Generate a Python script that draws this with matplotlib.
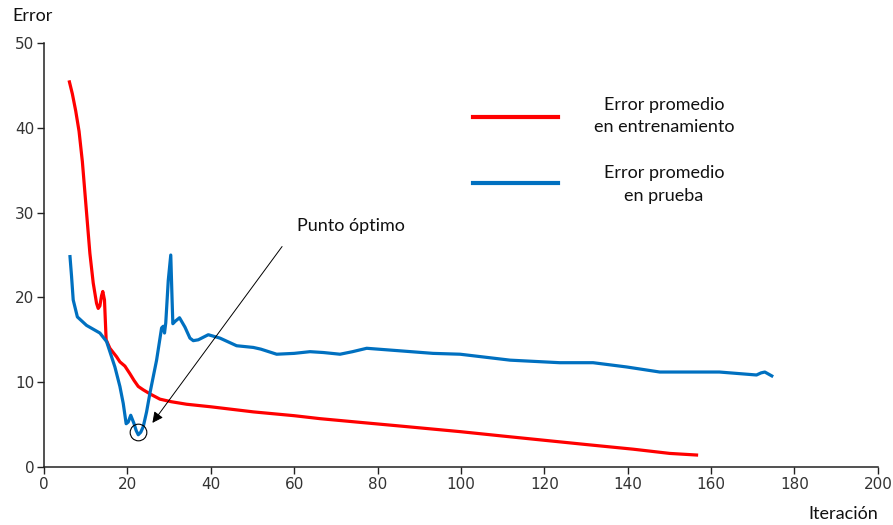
import numpy as np
import matplotlib
matplotlib.use('Agg')
import matplotlib.pyplot as plt
from matplotlib.lines import Line2D

# ----------------------------------------------------------------
#  Datos
# ----------------------------------------------------------------
red_x = [6, 6.8, 7.6, 8.4, 9.2, 10.2, 11.0, 11.8, 12.6, 13.0, 13.4, 13.8, 14.1,
         14.5, 14.9, 15.8, 17.4, 18.2, 19.4, 20.6, 21.6, 22.6, 23.8, 25.5,
         27.8, 30.5, 34.2, 40, 50.2, 60, 66.2, 75, 85, 99.8, 110, 120, 130,
         141.3, 150.1, 156.9]
red_y = [45.6, 44.0, 42.0, 39.6, 36.0, 30.0, 25.2, 21.7, 19.3, 18.7, 19.0,
         20.2, 20.7, 19.7, 15.0, 14.0, 13.0, 12.4, 11.9, 11.0, 10.2, 9.5,
         9.1, 8.6, 8.0, 7.7, 7.4, 7.1, 6.5, 6.05, 5.7, 5.3, 4.85, 4.17, 3.65,
         3.15, 2.65, 2.1, 1.6, 1.4]

blue_x = [6.2, 6.6, 7.0, 8.0, 10.2, 13.4, 15.0, 17.0, 18.2, 19.0, 19.7, 20.2,
          20.8, 21.6, 22.1, 22.6, 23.2, 23.8, 24.6, 25.4, 27.0, 28.2, 28.6,
          28.9, 29.2, 29.8, 30.4, 30.7, 30.9, 31.5, 32.5, 33.8, 35.0, 35.8,
          37, 39.4, 42.2, 46.2, 50.2, 52, 55.8, 60, 63.8, 67, 71, 74, 77.4,
          85.4, 93.3, 99.8, 111.8, 123.7, 131.7, 139.7, 147.7, 152.5, 162,
          170.9, 172.0, 172.9, 174.9]
blue_y = [25.0, 22.5, 19.7, 17.7, 16.7, 15.8, 14.8, 11.8, 9.5, 7.5, 5.1, 5.3,
          6.1, 5.1, 4.3, 3.8, 4.1, 4.75, 6.5, 8.7, 12.6, 16.4, 16.6, 15.8,
          17.0, 22.0, 25.0, 20.0, 16.9, 17.2, 17.6, 16.5, 15.2, 14.9, 15.0,
          15.6, 15.2, 14.3, 14.1, 13.9, 13.3, 13.4, 13.6, 13.5, 13.3, 13.6,
          14.0, 13.7, 13.4, 13.3, 12.6, 12.3, 12.3, 11.8, 11.2, 11.2, 11.2,
          10.85, 11.1, 11.2, 10.65]

x_ticks = [0, 20, 40, 60, 80, 100, 120, 140, 160, 180, 200]
y_ticks = [0, 10, 20, 30, 40, 50]

RED = '#ff0000'
BLUE = '#0070c0'
TXT_FONT = ['Lato', 'DejaVu Sans']
TXT_SIZE = 13

# ----------------------------------------------------------------
#  Figura
# ----------------------------------------------------------------
fig = plt.figure(figsize=(8.93, 5.25), dpi=100)
ax = fig.add_axes([0.0493, 0.1105, 0.9337, 0.8075])

ax.plot(red_x, red_y, color=RED, lw=2.3, solid_capstyle='butt', zorder=3)
ax.plot(blue_x, blue_y, color=BLUE, lw=2.3, solid_capstyle='butt', zorder=3)

ax.set_xlim(0, 200)
ax.set_ylim(0, 50)
ax.set_xticks(x_ticks)
ax.set_yticks(y_ticks)
for s in ('top', 'right'):
    ax.spines[s].set_visible(False)
for s in ('left', 'bottom'):
    ax.spines[s].set_color('#222222')
    ax.spines[s].set_linewidth(1.1)
ax.tick_params(direction='out', length=5, width=1.0, color='#222222',
               labelsize=11, labelcolor='#333333', pad=2)

# Punto optimo: minimo del error en prueba
i_min = int(np.argmin(blue_y))
ax.plot(blue_x[i_min], blue_y[i_min] + 0.3, 'o', mfc='none', mec='black',
        ms=12, mew=0.8, zorder=4)
ax.annotate('', xy=(26.0, 5.2), xytext=(57.1, 26.0),
            arrowprops=dict(arrowstyle='-|>', lw=0.7, color='black',
                            mutation_scale=16, shrinkA=0, shrinkB=0))
ax.text(60.8, 28.4, 'Punto óptimo', fontsize=TXT_SIZE, family=TXT_FONT,
        ha='left', va='center', color='#111111')

# Leyenda dibujada a mano
fig.add_artist(Line2D([0.530, 0.625], [0.777, 0.777], color=RED, lw=3))
fig.add_artist(Line2D([0.530, 0.625], [0.651, 0.651], color=BLUE, lw=3))
fig.text(0.7436, 0.779, 'Error promedio\nen entrenamiento', fontsize=TXT_SIZE,
         family=TXT_FONT, ha='center', va='center', linespacing=1.5,
         color='#111111')
fig.text(0.7436, 0.649, 'Error promedio\nen prueba', fontsize=TXT_SIZE,
         family=TXT_FONT, ha='center', va='center', linespacing=1.5,
         color='#111111')

# Etiquetas de ejes
fig.text(0.0134, 0.970, 'Error', fontsize=TXT_SIZE, family=TXT_FONT,
         ha='left', va='center', color='#111111')
fig.text(0.983, 0.021, 'Iteración', fontsize=TXT_SIZE, family=TXT_FONT,
         ha='right', va='center', color='#111111')

fig.savefig('out.png', dpi=100)
